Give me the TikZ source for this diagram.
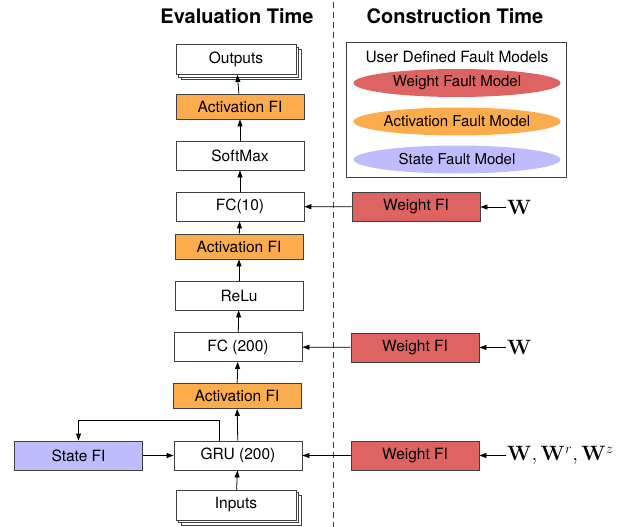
\documentclass[tikz,border=0pt]{standalone}
\usepackage[no-math]{fontspec}
\setmainfont{TeX Gyre Heros}
\usetikzlibrary{positioning,shadows,arrows.meta,shapes.geometric}
\definecolor{weightred}{RGB}{222,100,100}
\definecolor{actorange}{RGB}{252,172,76}
\definecolor{statelilac}{RGB}{190,188,252}
\colorlet{edgegray}{black!75}

\begin{document}
\begin{tikzpicture}[x=1pt, y=-1pt,
    >={Triangle[length=7pt, width=5pt]},
    every node/.style={font=\fontsize{15.5}{18}\selectfont},
    layer/.style={draw=edgegray, line width=0.8pt, fill=white, minimum width=128pt, minimum height=29pt, inner sep=0pt},
    actbox/.style={layer, fill=actorange, minimum height=25pt},
    weightbox/.style={layer, fill=weightred},
    statebox/.style={layer, fill=statelilac},
    stackbox/.style={layer, minimum width=120pt, minimum height=30pt, double copy shadow={shadow xshift=2.5pt, shadow yshift=-2.5pt}},
    model/.style={ellipse, draw=none, minimum width=207pt, minimum height=28pt, inner sep=0pt, font=\fontsize{15}{17}\selectfont},
    title/.style={font=\fontsize{20}{24}\selectfont\bfseries},
    flow/.style={->, line width=0.8pt, draw=black},
    wlabel/.style={anchor=west, inner sep=1pt, font=\fontsize{22}{26}\selectfont}
]
\useasboundingbox (0,0) rectangle (630,527);

% titles and divider
\node[title] (evaltitle) at (237,16) {Evaluation Time};
\node[title] (consttitle) at (455,16) {Construction Time};
\draw[edgegray, line width=0.8pt, dash pattern=on 6pt off 4pt] (333,2) -- (333,527);

% evaluation column
\node[stackbox] (out) at (236,59.5) {Outputs};
\node[actbox] (act1) at (240,106.5) {Activation FI};
\node[layer] (softmax) at (240,155.5) {SoftMax};
\node[layer] (fc10) at (240,206.5) {FC(10)};
\node[actbox] (act2) at (239,246.5) {Activation FI};
\node[layer] (relu) at (239,295.5) {ReLu};
\node[layer] (fc200) at (238,347) {FC (200)};
\node[actbox] (act3) at (237,396) {Activation FI};
\node[layer] (gru) at (238,455.5) {GRU (200)};
\node[statebox] (statefi) at (78.5,455.5) {State FI};
\node[stackbox] (inp) at (236,505) {Inputs};

\draw[flow] (inp) -- (gru);
\draw[flow] (gru) -- (act3);
\draw[flow] (act3) -- (fc200);
\draw[flow] (fc200) -- (relu);
\draw[flow] (relu) -- (act2);
\draw[flow] (act2) -- (fc10);
\draw[flow] (fc10) -- (softmax);
\draw[flow] (softmax) -- (act1);
\draw[flow] (act1) -- (out);
\draw[flow] (statefi) -- (gru);
\coordinate (loop) at (78.5,420);
\draw[flow] ([xshift=-19pt]gru.north) |- (loop) -- (statefi.north);

% construction column
\node[draw=edgegray, line width=0.8pt, minimum width=220pt, minimum height=135pt] (legend) at (456.7,110.2) {};
\node (legendtitle) at (457,57) {User Defined Fault Models};
\node[model, fill=weightred] (wfm) at (457,83) {Weight Fault Model};
\node[model, fill=actorange] (afm) at (457,121.5) {Activation Fault Model};
\node[model, fill=statelilac] (sfm) at (457,159.5) {State Fault Model};

\node[weightbox] (wfi1) at (416,207) {Weight FI};
\node[weightbox] (wfi2) at (415,347.5) {Weight FI};
\node[weightbox] (wfi3) at (415,455.5) {Weight FI};

\node[wlabel] (w1) at (506,207) {$\mathbf{W}$};
\node[wlabel] (w2) at (506,347.5) {$\mathbf{W}$};
\node[wlabel] (w3) at (506,455.5) {$\mathbf{W}, \mathbf{W}^r, \mathbf{W}^z$};

\draw[flow] (wfi1) -- (fc10);
\draw[flow] (wfi2) -- (fc200);
\draw[flow] (wfi3) -- (gru);
\draw[flow] (w1) -- (wfi1);
\draw[flow] (w2) -- (wfi2);
\draw[flow] (w3) -- (wfi3);
\end{tikzpicture}
\end{document}
